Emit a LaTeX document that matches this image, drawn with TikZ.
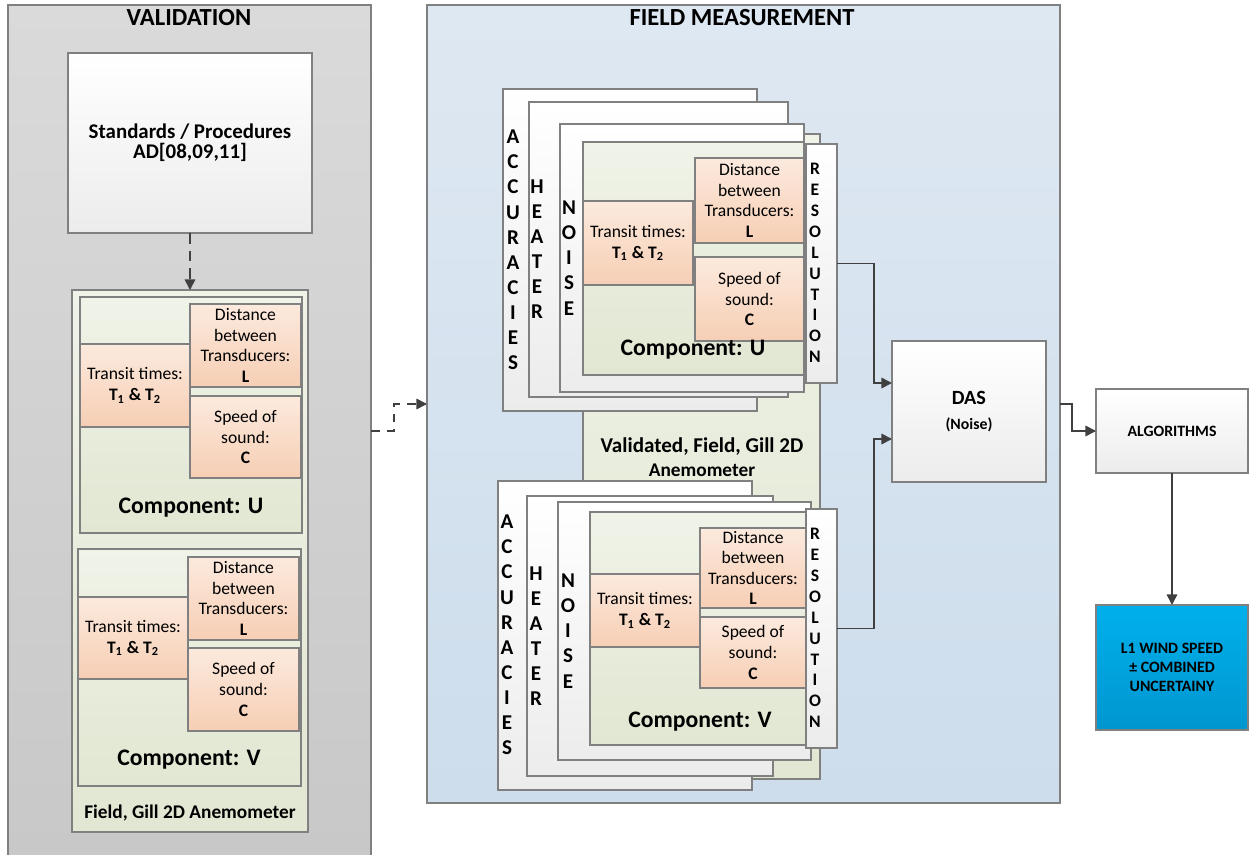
\documentclass[tikz,border=0pt]{standalone}
\usepackage{fontspec}
\setmainfont{Carlito}
\usetikzlibrary{arrows.meta}
\definecolor{framegray}{RGB}{128,128,128}
\definecolor{arrowgray}{RGB}{64,64,64}
\definecolor{valtop}{RGB}{218,218,218}
\definecolor{valbot}{RGB}{200,200,200}
\definecolor{fieldtop}{RGB}{222,232,242}
\definecolor{fieldbot}{RGB}{205,221,236}
\definecolor{whitebot}{RGB}{236,236,236}
\definecolor{greentop}{RGB}{240,243,232}
\definecolor{greenbot}{RGB}{225,231,210}
\definecolor{orangetop}{RGB}{252,234,222}
\definecolor{orangebot}{RGB}{246,206,180}
\definecolor{bluetop}{RGB}{0,176,235}
\definecolor{bluebot}{RGB}{0,150,208}
\newcommand{\transtxt}{Transit times:\\\textbf{T\textsubscript{1} \& T\textsubscript{2}}}
\newcommand{\disttxt}{Distance\\between\\Transducers:\\\textbf{L}}
\newcommand{\speedtxt}{Speed of\\sound:\\\textbf{C}}
\begin{document}
\begin{tikzpicture}
[x=0.02cm,y=-0.02cm,
  box/.style n args={4}{anchor=north west,minimum width={(#3-#1)*0.02cm},%
    minimum height={(#4-#2)*0.02cm},inner sep=0pt,outer sep=0pt},
  whitebox/.style={draw=framegray,line width=0.6pt,top color=white,bottom color=whitebot},
  greenbox/.style={draw=framegray,line width=0.6pt,top color=greentop,bottom color=greenbot},
  orangebox/.style={draw=framegray,line width=0.6pt,top color=orangetop,
    bottom color=orangebot,align=center,font=\fontsize{10}{11.7}\selectfont},
  letters/.style={align=center,font=\bfseries\fontsize{12}{14.3}\selectfont,inner sep=0pt},
  smallletters/.style={align=center,font=\bfseries\fontsize{10}{11.9}\selectfont,inner sep=0pt},
  paneltitle/.style={font=\bfseries\fontsize{14}{16}\selectfont},
  complabel/.style={font=\bfseries\fontsize{13.5}{16}\selectfont},
  flow/.style={draw=arrowgray,line width=0.9pt,-{Triangle[length=6pt,width=6pt]}}]
\useasboundingbox (0,0) rectangle (1249,855);
%% panels
\node (valpanel) [box={8}{5}{371}{857},draw=framegray,line width=0.7pt,
  top color=valtop,bottom color=valbot] at (8,5) {};
\node (fieldpanel) [box={427}{5}{1060}{803},draw=framegray,line width=0.7pt,
  top color=fieldtop,bottom color=fieldbot] at (427,5) {};
\node (valtitle) [paneltitle] at (189,18) {VALIDATION};
\node (fieldtitle) [paneltitle] at (742,18) {FIELD MEASUREMENT};
%% single boxes
\node (stdbox) [whitebox,box={68}{53}{312}{233},align=center,
  font=\bfseries\fontsize{11.9}{11.6}\selectfont] at (68,53)
  {Standards / Procedures\\AD[08,09,11]};
\node (das) [whitebox,box={892}{341}{1046}{482},align=center] at (892,341)
  {{\bfseries\fontsize{11.5}{13}\selectfont DAS}\\[2pt]{\bfseries\fontsize{9}{11}\selectfont (Noise)}};
\node (algo) [whitebox,box={1096}{389}{1248}{473},font=\bfseries\fontsize{9}{11}\selectfont]
  at (1096,389) {ALGORITHMS};
\node (lone) [box={1096}{605}{1248}{730},draw=framegray,line width=0.6pt,
  top color=bluetop,bottom color=bluebot,align=center,
  font=\bfseries\fontsize{9}{11}\selectfont] at (1096,605)
  {L1 WIND SPEED\\± COMBINED\\UNCERTAINY};
%% big green boxes
\foreach \nm/\xa/\ya/\xb/\yb in {gillbox/72/290/308/832, vgreen/583/134/820/779}
  \node (\nm) [greenbox,box={\xa}{\ya}{\xb}{\yb}] at (\xa,\ya) {};
\node (gilllab) [font=\bfseries\fontsize{11}{13}\selectfont] at (190,813)
  {Field, Gill 2D Anemometer};
\node (vgreenlab) [align=center,font=\bfseries\fontsize{12}{13.6}\selectfont] at (702,457)
  {Validated, Field, Gill 2D\\{\fontsize{11}{13}\selectfont Anemometer}};
%% stacked frames
\foreach \nm/\xa/\ya/\xb/\yb in {accU/503/89/757/411, heatU/529/102/788/397,
  noiseU/560/124/804/392, accV/498/481/752/790, heatV/527/496/773/776,
  noiseV/558/502/811/760}
  \node (\nm) [whitebox,box={\xa}{\ya}{\xb}{\yb}] at (\xa,\ya) {};
%% components
\foreach \nm/\xa/\ya/\xb/\yb in {compU/80/297/302/533, compV/78/549/301/786,
  compFU/583/142/804/375, compFV/590/512/806/745}
  \node (\nm) [greenbox,box={\xa}{\ya}{\xb}{\yb}] at (\xa,\ya) {};
%% measured quantities
\foreach \nm/\xa/\ya/\xb/\yb/\txt in {transU/80/344/190/427/\transtxt,
  distU/190/304/301/387/\disttxt, speedU/190/396/301/478/\speedtxt,
  transV/78/597/188/679/\transtxt, distV/188/557/299/640/\disttxt,
  speedV/188/648/299/731/\speedtxt,
  transFU/583/201/693/285/\transtxt, distFU/695/158/804/243/\disttxt,
  speedFU/695/257/804/341/\speedtxt,
  transFV/590/574/700/647/\transtxt, distFV/700/528/806/608/\disttxt,
  speedFV/700/617/806/688/\speedtxt}
  \node (\nm) [orangebox,box={\xa}{\ya}{\xb}{\yb}] at (\xa,\ya) {\txt};
\foreach \nm/\x/\y/\lab in {compUlab/191/508/U, compVlab/189/760/V,
  compFUlab/693/350/U, compFVlab/700/722/V}
  \node (\nm) [complabel] at (\x,\y) {Component: \lab};
%% resolution strips
\foreach \nm/\xa/\ya/\xb/\yb in {resU/806/144/837/383, resV/806/509/837/748}
  \node (\nm) [whitebox,box={\xa}{\ya}{\xb}{\yb}] at (\xa,\ya) {};
%% vertical words
\node (accUw) [letters] at (513,250) {A\\C\\C\\U\\R\\A\\C\\I\\E\\S};
\node (heatUw) [letters] at (537,249) {H\\E\\A\\T\\E\\R};
\node (noiseUw) [letters] at (569,258) {N\\O\\I\\S\\E};
\node (resUw) [smallletters] at (815,263) {R\\E\\S\\O\\L\\U\\T\\I\\O\\N};
\node (accVw) [letters] at (507,635) {A\\C\\C\\U\\R\\A\\C\\I\\E\\S};
\node (heatVw) [letters] at (536,636) {H\\E\\A\\T\\E\\R};
\node (noiseVw) [letters] at (568,631) {N\\O\\I\\S\\E};
\node (resVw) [smallletters] at (815,628) {R\\E\\S\\O\\L\\U\\T\\I\\O\\N};
%% das inputs
\coordinate (dasin1) at ([yshift=0.57cm]das.west);
\coordinate (dasin2) at ([yshift=-0.55cm]das.west);
%% connectors
\draw[flow,dash pattern=on 6pt off 4pt] (stdbox.south) -- (gillbox.north);
\draw[flow,dash pattern=on 5pt off 4pt] (valpanel.east) -- ++(23,0) |- (fieldpanel.west);
\draw[flow] (resU.east) -- ++(37,0) |- (dasin1);
\draw[flow] (resV.east) -- ++(37,0) |- (dasin2);
\draw[flow] (fieldpanel.east) -- ++(12,0) |- (algo.west);
\draw[flow] (algo.south) -- (lone.north);
\end{tikzpicture}
\end{document}
